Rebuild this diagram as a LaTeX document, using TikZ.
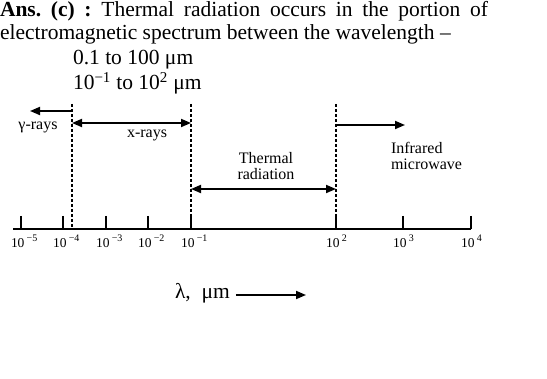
\documentclass[tikz,border=0pt]{standalone}
\usepackage{fontspec}
\setmainfont{Liberation Serif}
\usetikzlibrary{arrows.meta}
\frenchspacing

% power of ten on the wavelength axis
\newcommand{\decade}[1]{10\,\raisebox{0.5em}{\fontsize{10}{10}\selectfont #1}}

\begin{document}
\begin{tikzpicture}[
    x=1pt, y=-1pt,
    every node/.style={inner sep=0pt, outer sep=0pt},
    >={Triangle[length=10pt,width=8pt]},
    bigtext/.style={font=\fontsize{21.5}{24}\selectfont, anchor=base west},
    bandtext/.style={font=\fontsize{16}{16.5}\selectfont},
    decadetext/.style={font=\fontsize{13.5}{13.5}\selectfont, anchor=base west},
    band/.style={line width=1.8pt},
    divider/.style={line width=1.8pt, dash pattern=on 3.3pt off 1.7pt},
    tickmark/.style={line width=1.8pt}
]
\useasboundingbox (0,0) rectangle (547,379);

% Parameters (pixel positions)
\def\axisY{229}
\def\tickTop{216}
\def\divTop{104}

% === Answer text ===
\node[bigtext] (ans) at (0,17)
    {\makebox[488pt][s]{\textbf{Ans. (c) :} Thermal radiation occurs in the portion of}};
\node[bigtext] (ansTwo) at (0,40) {electromagnetic spectrum between the wavelength –};
\node[bigtext] (rangeA) at (73,65) {0.1 to 100 μm};
\node[bigtext] (rangeB) at (73,90) {10\textsuperscript{−1} to 10\textsuperscript{2} μm};

% === Wavelength axis ===
\draw[line width=1.5pt] (13,\axisY) -- (471,\axisY);

% Ticks and decade labels
\foreach \x/\e/\n in {21/−5/a, 63/−4/b, 106/−3/c, 148/−2/d, 191/−1/e,
                      336/2/f, 403/3/g, 471/4/h} {
    \draw[tickmark] (\x,\tickTop) -- (\x,\axisY);
    \node[decadetext] (dec\n) at ({\x-10},248) {\decade{\e}};
}

% === Band limits (dashed) ===
\foreach \x in {72, 191, 336} {
    \draw[divider] (\x,\divTop) -- (\x,\axisY);
}

% === Band arrows ===
\coordinate (gammaL) at (30,111);
\coordinate (gammaR) at (72,111);
\coordinate (xrayL) at (72,123);
\coordinate (xrayR) at (191,123);
\coordinate (thermL) at (191,189);
\coordinate (thermR) at (336,189);
\coordinate (irL) at (336,125);
\coordinate (irR) at (405,125);

\draw[band,->] (gammaR) -- (gammaL);
\draw[band,<->] (xrayL) -- (xrayR);
\draw[band,<->] (thermL) -- (thermR);
\draw[band,->] (irL) -- (irR);

% Band labels
\node[bandtext, anchor=base] (gammaLab) at (38,130) {γ-rays};
\node[bandtext, anchor=base] (xrayLab) at (147,138) {x-rays};
\node[bandtext, align=center] (thermLab) at (266,166) {Thermal\\radiation};
\node[bandtext, align=left, anchor=west] (irLab) at (391,156) {Infrared\\microwave};

% === Axis caption ===
\node[bigtext] (lam) at (175,299) {λ,\ \ μm};
\coordinate (lamEnd) at (306,295);
\draw[band,->] ([xshift=6pt]lam.east |- lamEnd) -- (lamEnd);

\end{tikzpicture}
\end{document}
